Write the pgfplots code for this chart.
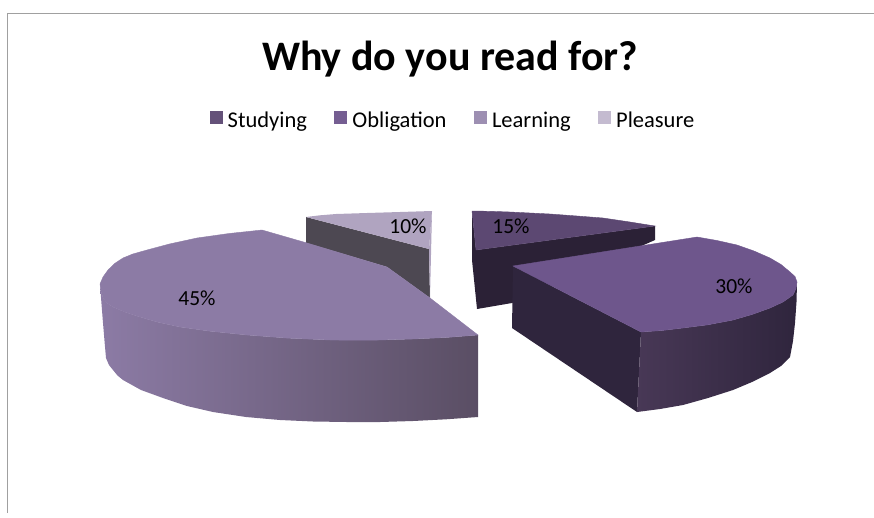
\documentclass[border=0pt]{standalone}
\usepackage{fontspec}
\setmainfont{Carlito}
\usepackage{pgfplots}
\pgfplotsset{compat=1.18}

\definecolor{studyTop}{HTML}{5C4872}
\definecolor{studySide}{HTML}{2B2136}
\definecolor{oblTop}{HTML}{6E568C}
\definecolor{oblSide}{HTML}{2F253D}
\definecolor{oblSideL}{HTML}{483856}
\definecolor{learnTop}{HTML}{8C7BA5}
\definecolor{learnMid}{HTML}{7B6A8E}
\definecolor{learnDark}{HTML}{5A4E64}
\definecolor{pleasTop}{HTML}{B0A4C0}
\definecolor{pleasSide}{HTML}{4D4852}
\definecolor{frameGray}{HTML}{A0A0A0}

\begin{document}
\begin{tikzpicture}
\path[use as bounding box] (0,0) rectangle (874pt,517pt);
\begin{axis}[
    scale only axis,
    width=874pt,
    height=517pt,
    xmin=0, xmax=874,
    ymin=0, ymax=517,
    y dir=reverse,
    hide axis,
    clip=false,
    title={Why do you read for?},
    title style={at={(axis cs:450,76)}, anchor=base, font=\fontsize{42}{46}\selectfont\bfseries},
    legend columns=4,
    legend style={
        at={(axis cs:453,122)}, anchor=center, draw=none, fill=none,
        font=\fontsize{22.5}{26}\selectfont,
        inner sep=0pt,
        nodes={text height=15pt, text depth=5pt},
        /tikz/every odd column/.append style={column sep=3pt},
        /tikz/every even column/.append style={column sep=25.5pt},
    },
    legend cell align=left,
    legend image code/.code={
        \path[#1, draw=none] (0pt,-1.5pt) rectangle (13pt,11.5pt);
    },
    pie/.style={forget plot, draw=none},
    face/.style={forget plot, draw=#1, fill=#1, line width=0.4pt},
]
% frame
\addplot[forget plot, frameGray, line width=1.6pt] coordinates {(7.5,513) (7.5,13.5) (874,13.5)};

% Pleasure
\addplot[pie, fill=pleasSide] coordinates {(306,217) (429,249) (430,298) (387,267) (306,243)} --cycle;
\addplot[pie, fill=pleasTop] coordinates {(432,211) (430,298) (429,249)} --cycle;
\addplot[pie, fill=pleasTop] coordinates {(306,217) (320,215.3) (336,214) (367,213) (400,212) (432,211) (429,249)} --cycle;

% Learning
\addplot[pie, left color=learnTop, middle color=learnMid, right color=learnDark] coordinates {
    (100,284) (101.5,304) (103,323) (104.5,341) (106,358) (109,365) (113,370) (117.5,375.5) (123,380) (141,390) (163,398) (187,406) (213,412) (246,417) (280,420) (313,421.5) (347,422) (380,422) (413,421) (446,419.3) (478,417)
    (478,335) (446,337.5) (413,339) (372,340.2) (330,340) (287.5,338.1) (247,335) (210.8,331.3) (180,327) (157.5,322.1) (140,317) (124.6,311.9) (113,307) (107,303) (103,298) (101,291)} --cycle;
\addplot[face=learnTop] coordinates {
    (478,335) (446,337.5) (413,339) (372,340.2) (330,340) (287.5,338.1) (247,335) (210.8,331.3) (180,327) (157.5,322.1) (140,317) (124.6,311.9) (113,307) (107,303) (103,298) (101,291)
    (100,284) (103,277) (108,270) (114.5,263.6) (123,258) (132.8,254) (147,250) (169.4,244) (197,238) (229,233.5) (262,230)
    (307,243) (387,267) (430,298)} --cycle;

% Studying
\addplot[pie, fill=studySide] coordinates {(472,211) (472,260) (477,309) (512,303) (655,240) (655,226) (476,250)} --cycle;
\addplot[face=studyTop] coordinates {(472,211) (490,211.3) (510,212) (530,213) (550,214) (577,216) (603,218) (630,222) (655,226) (476,250)} --cycle;

% Obligation
\addplot[pie, fill=oblSide] coordinates {(513,266) (641,332) (637,412) (512,328)} --cycle;
\addplot[pie, left color=oblSideL, right color=oblSide] coordinates {
    (641,332) (662,330.5) (683,328) (708,324.8) (733,320) (752,314.5) (770,308) (783,302) (793,295) (796,288.5) (797,282)
    (796.5,302) (795,323) (793,341) (790,357) (781,366) (770,373) (752,382) (733,390) (708,398) (683,405) (660,409) (637,412)} --cycle;
\addplot[face=oblTop] coordinates {
    (513,266) (697,237) (717,240.5) (737,245) (754,251) (770,258) (781,264.5) (790,272) (795,276.5) (797,282) (796,288.5) (793,295) (783,302) (770,308) (752,314.5) (733,320) (708,324.8) (683,328) (662,330.5) (641,332)} --cycle;

% labels
\node[font=\fontsize{21.5}{24}\selectfont] at (axis cs:408,226) {10\%};
\node[font=\fontsize{21.5}{24}\selectfont] at (axis cs:511,226) {15\%};
\node[font=\fontsize{21.5}{24}\selectfont] at (axis cs:734,286) {30\%};
\node[font=\fontsize{21.5}{24}\selectfont] at (axis cs:197,298) {45\%};

% legend
\addlegendimage{fill=studyTop!95!white}
\addlegendentry{Studying}
\addlegendimage{fill=oblTop!95!white}
\addlegendentry{Obligation}
\addlegendimage{fill=learnTop!85!white}
\addlegendentry{Learning}
\addlegendimage{fill=pleasTop!75!white}
\addlegendentry{Pleasure}
\end{axis}
\end{tikzpicture}
\end{document}
